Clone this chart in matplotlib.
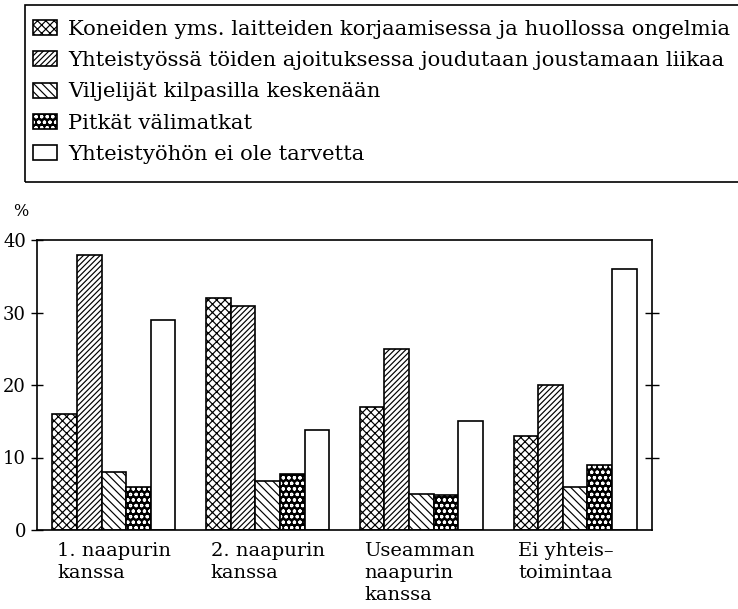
import numpy as np
import matplotlib
matplotlib.use("Agg")
import matplotlib.pyplot as plt
from matplotlib.patches import Rectangle

plt.rcParams['font.family'] = ['DejaVu Serif']
plt.rcParams['hatch.linewidth'] = 0.85

# --- data ---
groups = ["1. naapurin\nkanssa", "2. naapurin\nkanssa",
          "Useamman\nnaapurin\nkanssa", "Ei yhteis–\ntoimintaa"]
series = ["Koneiden yms. laitteiden korjaamisessa ja huollossa ongelmia",
          "Yhteistyössä töiden ajoituksessa joudutaan joustamaan liikaa",
          "Viljelijät kilpasilla keskenään",
          "Pitkät välimatkat",
          "Yhteistyöhön ei ole tarvetta"]
koneet = [16.0, 32.0, 17.0, 13.0]
ajoitus = [38.0, 30.9, 25.0, 20.0]
kilpa = [8.0, 6.8, 4.9, 6.0]
matkat = [6.0, 7.7, 4.8, 9.0]
tarve = [28.9, 13.8, 15.0, 36.0]
yticks = [0, 10, 20, 30, 40]

values = [koneet, ajoitus, kilpa, matkat, tarve]
hatches = ['xxxx', '//////', '\\' * 4, 'ooo', '']

fig = plt.figure(figsize=(7.38, 6.09), dpi=100)
ax = fig.add_axes([37/738, 1-530/609, (652-37)/738, (530-240)/609])

x = np.arange(len(groups))
w = 0.16
handles = []
for i, (vals, h) in enumerate(zip(values, hatches)):
    pos = x + (i - 2) * w
    if h.startswith('o'):
        # black bar with white dots, outline drawn on top
        b1 = ax.bar(pos, vals, w, facecolor='black', edgecolor='white',
                    hatch=h, linewidth=0)
        b2 = ax.bar(pos, vals, w, fill=False, edgecolor='black', linewidth=1.2)
        handles.append((b1[0], b2[0]))
    else:
        b = ax.bar(pos, vals, w, facecolor='white', edgecolor='black',
                   hatch=h, linewidth=1.2)
        handles.append(b[0])

ax.set_xlim(-0.5, 3.5)
ax.set_ylim(0, 40)
ax.set_yticks(yticks)
ax.set_yticklabels([str(v) for v in yticks], fontsize=13)
ax.tick_params(axis='y', direction='inout', length=8, width=1, pad=4)
ax.set_xticks([])
for s in ax.spines.values():
    s.set_linewidth(1.2)

# right axis ticks
ax2 = ax.twinx()
ax2.set_ylim(0, 40)
ax2.set_yticks([10, 20, 30])
ax2.set_yticklabels([])
ax2.tick_params(axis='y', direction='inout', length=10, width=1)
ax2.spines[:].set_visible(False)

# group labels, left aligned under each group
for xi, lab in zip(x, groups):
    ax.text(xi - 0.37, -1.6, lab, ha='left', va='top', fontsize=14,
            linespacing=1.3)

fig.text(13/738, 1-211/609, "%", fontsize=11.5, ha='left', va='center')

# legend box
fig.patches.append(Rectangle((25/738, 1-182/609), 0.99, (182-5)/609,
                             transform=fig.transFigure, fill=False,
                             edgecolor='black', linewidth=1.2))
fig.legend(handles, series, loc='upper left',
           bbox_to_anchor=(33/738, 1-20/609), frameon=False, fontsize=15.2,
           handlelength=1.15, handleheight=0.72, handletextpad=0.5,
           labelspacing=0.58, borderpad=0, borderaxespad=0)

fig.savefig("out.png", dpi=100)
